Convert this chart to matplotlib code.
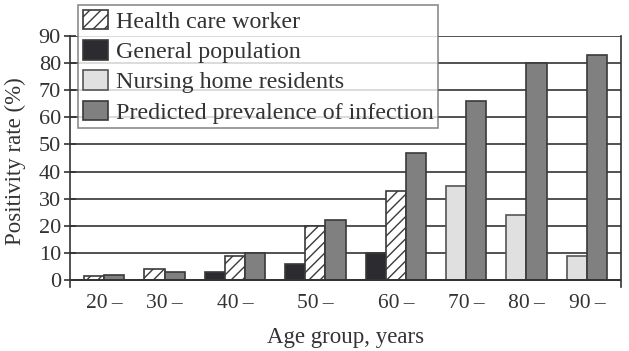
import matplotlib
matplotlib.use("Agg")
import matplotlib.pyplot as plt
from matplotlib.patches import Patch

plt.rcParams['font.family'] = ['Liberation Serif', 'DejaVu Serif']
plt.rcParams['hatch.linewidth'] = 1.0

# Data; None = no bar in that age group
age_groups = ["20\u2009\u2013", "30\u2009\u2013", "40\u2009\u2013", "50\u2009\u2013",
              "60\u2009\u2013", "70\u2009\u2013", "80\u2009\u2013", "90\u2009\u2013"]
general_pop = [None, None, 3, 6, 10, None, None, None]
health_care = [1.6, 4, 9, 20, 33, None, None, None]
nursing_home = [None, None, None, None, None, 34.5, 24, 9]
predicted = [1.7, 3.1, 10, 22, 47, 66, 80, 83]

TXT = '#333333'
EDGE = '#3a3a3a'
series = [
    ("General population", general_pop, dict(facecolor='#2b2b30', edgecolor=EDGE)),
    ("Health care worker", health_care, dict(facecolor='white', edgecolor=EDGE, hatch='///')),
    ("Nursing home residents", nursing_home, dict(facecolor='#e0e0e0', edgecolor='#555555')),
    ("Predicted prevalence of infection", predicted, dict(facecolor='#808080', edgecolor=EDGE)),
]

fig = plt.figure(figsize=(6.29, 3.51), dpi=100)
ax = fig.add_axes([0.1113, 0.1823, 0.8760, 0.7151])

# each group only holds the bars that exist, separated by a one-bar gap
cursor = 0
centers = []
for i in range(len(age_groups)):
    present = [(s, vals[i], st) for s, vals, st in series if vals[i] is not None]
    for j, (name, v, st) in enumerate(present):
        ax.bar(cursor + j + 0.5, v, width=1.0, linewidth=1.2, zorder=3, **st)
    centers.append(cursor + len(present) / 2)
    cursor += len(present) + 1

ax.set_xlim(-0.7, cursor - 1 + 0.7)
ax.set_ylim(-2.6, 90)
ax.set_yticks(range(0, 91, 10))
ax.yaxis.grid(True, color='#333333', linewidth=1.2, zorder=1)
ax.axhline(0, color='#333333', linewidth=1.4, zorder=4)
ax.set_xticks(centers)
ax.set_xticklabels(age_groups)
ax.tick_params(axis='x', length=0, pad=5, labelsize=15.5, labelcolor=TXT)
ax.tick_params(axis='y', direction='inout', length=9, width=1.2, color='#333333',
               pad=2, labelsize=16, labelcolor=TXT)
for side in ['top', 'bottom']:
    ax.spines[side].set_visible(False)
for side in ['left', 'right']:
    ax.spines[side].set_color('#333333')
    ax.spines[side].set_linewidth(1.2)

ax.set_xlabel("Age group, years", fontsize=16.5, color=TXT, labelpad=10)
ax.set_ylabel("Positivity rate (%)", fontsize=16.5, color=TXT)
ax.yaxis.set_label_coords(-0.08, 0.5)

order = [1, 0, 2, 3]
handles = [Patch(linewidth=1.2, label=series[k][0], **series[k][2]) for k in order]
leg = ax.legend(handles=handles, loc='upper left', bbox_to_anchor=(0.014, 1.0 + 31 / 251),
                fontsize=17.3, frameon=True, fancybox=False, handlelength=1.08, handleheight=0.87,
                handletextpad=0.3, labelspacing=0.3, borderpad=0.2, borderaxespad=0)
leg.get_frame().set_edgecolor('#707070')
leg.get_frame().set_linewidth(1.2)
leg.set_zorder(5)
for t in leg.get_texts():
    t.set_color(TXT)

fig.savefig("out.png", dpi=100)
